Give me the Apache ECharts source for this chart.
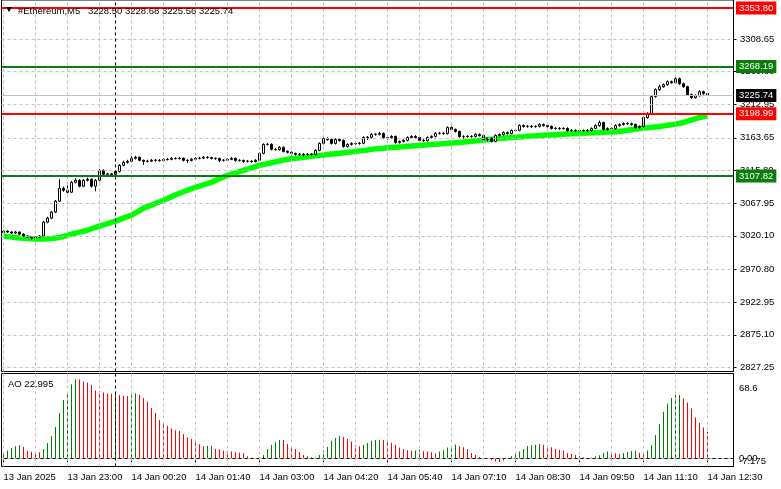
<!DOCTYPE html>
<html><head><meta charset="utf-8">
<script src="https://cdn.jsdelivr.net/npm/echarts@6/dist/echarts.min.js"></script>
<style>html,body{margin:0;padding:0;background:#fff}#c{width:781px;height:489px}</style>
</head><body><div id="c"></div>
<script>
const symbolName = '#Ethereum,M5';
const firstOpen = 3025.0;
const closes = [3027.1,3025.7,3024.2,3025.7,3022.7,3019.8,3018.4,3016.9,3018.4,3019.8,
3040.2,3046.1,3054.8,3070.9,3089.8,3086.9,3084.0,3098.6,3101.5,3092.8,
3101.5,3103.0,3092.8,3101.5,3116.1,3110.3,3110.8,3110.0,3114.6,3123.4,
3127.8,3129.2,3133.6,3135.1,3130.7,3129.2,3129.5,3130.7,3130.9,3130.4,
3132.2,3132.0,3133.6,3133.4,3133.8,3130.7,3130.5,3132.2,3133.6,3133.9,
3135.1,3134.8,3133.6,3133.3,3130.7,3130.9,3132.2,3133.6,3130.7,3130.5,
3129.2,3129.4,3129.0,3130.7,3140.9,3154.0,3154.3,3146.8,3146.6,3149.7,
3143.8,3142.4,3140.9,3139.5,3139.7,3139.3,3139.6,3139.4,3145.3,3155.5,
3162.8,3161.3,3155.5,3161.3,3159.9,3151.1,3154.0,3155.5,3155.3,3155.7,
3164.2,3164.5,3168.6,3168.9,3170.1,3164.2,3164.0,3165.7,3156.9,3158.4,
3159.9,3164.2,3165.7,3164.2,3159.9,3159.6,3164.2,3165.7,3170.1,3170.4,
3169.9,3178.8,3175.9,3173.0,3165.7,3165.5,3165.9,3165.6,3168.6,3167.2,
3161.3,3162.8,3158.4,3167.2,3168.6,3171.5,3170.1,3174.4,3174.7,3181.7,
3180.3,3180.6,3180.0,3180.4,3183.2,3181.7,3180.3,3177.4,3177.6,3177.2,
3177.5,3174.4,3174.6,3174.2,3174.5,3174.3,3174.6,3177.4,3181.7,3186.1,
3175.9,3177.4,3177.1,3181.7,3183.2,3184.7,3184.4,3183.2,3178.8,3180.3,
3193.4,3199.3,3224.1,3234.3,3238.6,3241.6,3245.9,3244.5,3250.3,3243.0,
3238.6,3226.9,3222.6,3225.5,3231.3,3228.5,3225.74];
const highs = [3028.6,3028.3,3026.8,3027.0,3026.5,3023.8,3021.0,3019.6,3019.9,3021.4,
3041.8,3048.0,3056.4,3072.5,3103.0,3092.2,3098.6,3100.3,3104.4,3103.0,
3103.2,3105.5,3104.2,3103.0,3117.8,3117.5,3112.5,3112.2,3116.0,3125.0,
3130.4,3131.5,3136.5,3137.2,3136.3,3131.8,3131.5,3132.6,3132.8,3132.5,
3134.0,3134.1,3135.5,3135.2,3135.6,3135.0,3132.3,3133.9,3135.4,3135.8,
3137.0,3136.8,3136.0,3135.1,3134.8,3132.6,3134.0,3135.5,3135.0,3132.4,
3131.9,3131.2,3131.0,3132.4,3142.6,3155.8,3156.0,3155.5,3148.5,3151.5,
3151.0,3145.3,3143.8,3142.0,3141.5,3141.3,3141.4,3141.2,3147.0,3157.2,
3164.5,3164.6,3163.0,3163.0,3162.8,3161.2,3155.8,3157.2,3157.0,3157.5,
3166.0,3166.3,3170.4,3170.7,3172.5,3171.5,3166.0,3167.5,3167.0,3160.0,
3161.6,3165.8,3167.5,3167.4,3165.6,3161.6,3165.9,3167.4,3171.8,3172.2,
3172.0,3180.6,3180.3,3177.4,3174.5,3167.4,3167.6,3167.5,3170.3,3170.2,
3168.7,3164.5,3164.2,3168.9,3170.3,3173.2,3173.1,3176.1,3176.6,3183.4,
3183.5,3182.5,3182.4,3182.2,3185.0,3184.8,3183.3,3181.8,3179.4,3179.3,
3179.2,3179.0,3176.4,3176.2,3176.3,3176.2,3176.4,3179.0,3183.5,3189.0,
3187.5,3179.1,3179.0,3183.4,3185.0,3186.4,3186.5,3186.0,3184.8,3182.0,
3195.2,3201.2,3226.0,3236.1,3241.4,3243.4,3247.7,3247.6,3254.7,3251.8,
3244.5,3240.0,3228.5,3227.3,3233.5,3232.8,3228.68];
const lows = [3023.8,3024.5,3022.9,3023.0,3021.3,3018.5,3016.8,3014.9,3015.3,3017.0,
3018.6,3038.5,3044.7,3053.5,3069.6,3084.8,3082.4,3082.9,3097.0,3091.2,
3091.5,3099.8,3091.0,3085.4,3100.2,3108.8,3109.0,3108.5,3108.7,3113.2,
3122.0,3126.0,3128.0,3132.0,3129.2,3124.0,3127.5,3128.2,3129.0,3128.8,
3129.0,3130.5,3130.7,3131.8,3131.9,3129.0,3127.0,3129.2,3131.0,3132.2,
3132.5,3133.0,3132.0,3131.5,3128.0,3129.0,3129.5,3131.0,3129.0,3128.8,
3127.0,3127.6,3127.4,3127.5,3129.4,3139.6,3152.5,3145.3,3144.8,3145.2,
3142.2,3140.6,3137.5,3137.8,3137.9,3136.5,3137.8,3137.6,3138.0,3144.0,
3154.0,3159.5,3153.8,3154.0,3158.0,3149.2,3149.6,3152.4,3153.5,3153.6,
3154.3,3160.5,3163.0,3166.9,3167.2,3162.5,3161.0,3162.3,3155.2,3155.3,
3156.8,3158.5,3162.8,3162.6,3158.2,3157.9,3158.2,3162.8,3164.3,3168.4,
3168.2,3168.6,3174.3,3171.4,3164.0,3162.0,3163.8,3163.9,3164.2,3165.5,
3159.8,3158.6,3156.9,3157.0,3165.8,3167.0,3168.4,3168.8,3172.8,3173.4,
3178.7,3178.6,3178.4,3178.5,3179.0,3180.0,3178.6,3175.8,3175.8,3175.4,
3175.6,3172.8,3172.6,3172.5,3172.4,3172.6,3172.5,3173.0,3176.0,3180.0,
3174.4,3174.2,3175.4,3175.6,3180.1,3181.8,3182.8,3181.5,3177.2,3177.0,
3178.8,3191.9,3198.0,3222.6,3232.8,3237.0,3240.1,3243.0,3243.0,3241.4,
3237.0,3225.2,3220.9,3221.0,3224.0,3226.9,3225.56];
const maValues = [3019.8,3019.0,3018.3,3017.6,3016.9,3016.5,3016.1,3015.7,3015.4,3015.4,
3015.4,3015.7,3016.2,3016.9,3017.9,3019.2,3020.9,3022.7,3024.2,3025.6,
3027.1,3028.6,3030.5,3032.4,3034.4,3036.2,3038.0,3039.8,3041.7,3043.8,
3046.0,3048.2,3050.4,3053.8,3057.2,3060.7,3063.0,3065.3,3067.6,3070.0,
3072.3,3074.8,3077.4,3080.0,3082.5,3084.7,3086.9,3089.1,3091.3,3093.1,
3094.9,3096.8,3098.6,3101.2,3103.7,3106.3,3108.8,3110.6,3112.5,3114.3,
3116.1,3118.0,3119.8,3121.6,3123.4,3124.7,3125.9,3127.2,3128.4,3129.7,
3131.0,3132.2,3132.9,3133.6,3134.4,3135.1,3135.8,3136.6,3137.3,3138.0,
3138.6,3139.3,3139.9,3140.5,3141.1,3141.8,3142.4,3143.1,3143.8,3144.6,
3145.3,3146.0,3146.8,3147.5,3148.2,3148.6,3149.1,3149.5,3150.0,3150.4,
3150.8,3151.3,3151.7,3152.2,3152.6,3153.0,3153.5,3153.9,3154.3,3154.8,
3155.2,3155.6,3156.1,3156.5,3156.9,3157.5,3158.1,3158.7,3159.3,3159.9,
3160.4,3161.0,3161.6,3162.2,3162.8,3163.2,3163.7,3164.1,3164.5,3165.0,
3165.4,3165.9,3166.3,3166.7,3167.2,3167.5,3167.8,3168.0,3168.3,3168.6,
3168.9,3169.2,3169.5,3169.8,3170.1,3170.4,3170.7,3171.0,3171.2,3171.5,
3171.8,3172.1,3172.4,3172.7,3173.0,3173.9,3174.8,3175.6,3176.5,3177.4,
3178.0,3178.6,3179.1,3179.7,3180.3,3181.2,3182.1,3182.9,3183.8,3184.7,
3186.4,3188.2,3189.9,3191.7,3193.4,3194.8,3196.3];
const aoValues = [5.0,6.7,9.0,10.4,11.3,9.8,6.4,5.6,5.4,5.3,
8.1,13.3,19.1,27.2,39.4,50.7,57.3,64.5,68.9,68.6,
66.9,66.0,64.0,59.0,58.5,57.3,56.2,56.1,56.7,55.0,
54.4,54.3,55.3,56.7,55.0,52.4,49.2,43.7,39.4,33.3,
30.7,28.4,26.0,24.3,23.7,21.1,18.2,16.8,15.3,12.2,
10.4,10.6,10.9,8.1,7.8,6.6,6.5,5.8,5.2,4.9,
4.3,1.7,0.4,0.2,1.0,2.9,8.1,11.6,14.2,15.9,
15.8,12.4,10.4,8.1,5.5,2.9,1.7,0.9,0.6,2.9,
6.7,9.8,15.3,17.7,19.4,18.5,16.8,14.5,11.6,10.5,
11.6,13.3,15.3,15.9,16.2,16.0,15.3,13.6,11.6,9.3,
8.1,6.9,6.6,6.7,7.5,6.4,5.8,5.2,4.1,5.8,
7.2,9.3,11.0,11.9,10.4,9.6,8.1,4.6,2.9,1.2,
0.3,-0.6,-1.6,-2.9,-3.2,-2.0,-0.6,1.7,4.6,5.8,
8.1,10.7,11.4,11.8,12.4,11.6,10.7,9.6,8.1,7.5,
6.7,4.6,3.8,2.9,1.7,0.9,0.3,0.6,1.7,2.6,
4.6,5.8,4.6,4.3,3.5,4.6,5.5,6.4,6.7,4.9,
4.6,6.7,11.6,20.3,29.8,40.5,47.8,52.4,55.0,55.1,
52.1,48.6,43.4,35.6,30.7,26.9,22.995];
const timeLabels = ['13 Jan 2025','13 Jan 23:00','14 Jan 00:20','14 Jan 01:40','14 Jan 03:00','14 Jan 04:20',
  '14 Jan 05:40','14 Jan 07:10','14 Jan 08:30','14 Jan 09:50','14 Jan 11:10','14 Jan 12:30'];
const priceTicks = [3308.65,3260.80,3212.95,3163.65,3115.80,3067.95,3020.10,2970.80,2922.95,2875.10,2827.25];
const aoMaxLabel = 68.6, aoMinLabel = -7.175;
const levelValues = [3353.80, 3268.19, 3198.99, 3107.82];
const levelColors = ['#ff0000', '#0a7d0a', '#ff0000', '#0a7d0a'];
const daySeparatorIndex = 28; // 14 Jan 00:00

const FONT = '"Liberation Sans", Arial, sans-serif';
const FS = 9.5;
const AO_UP = '#008000', AO_DOWN = '#ff0000';
const nBars = closes.length;
const nCats = 183;
const labelStep = 16, gridStep = 8;
const cats = Array.from({length: nCats}, (_, i) => String(i));
const opens = closes.map((c, i) => i === 0 ? firstOpen : closes[i - 1]);
const candleData = closes.map((c, i) => [opens[i], c, lows[i], highs[i]]);
const lastIdx = nBars - 1;
const lastClose = closes[lastIdx];
const aoColor = (i) => (i > 0 && aoValues[i] < aoValues[i - 1]) ? AO_DOWN : AO_UP;
const vGrid = [];
for (let k = 0; k < nBars; k += gridStep) vGrid.push({xAxis: String(k)});
const dashStyle = {color: '#c0c0c0', type: [3, 3], width: 1};
const axisTxt = {color: '#000', fontSize: FS, fontFamily: FONT};

const chart = echarts.init(document.getElementById('c'), null, {renderer: 'canvas'});
const option = {
  animation: false,
  backgroundColor: '#fff',
  grid: [
    {left: 1.5, top: -1.5, width: 732, height: 373, show: true, borderColor: '#000', borderWidth: 1},
    {left: 1.5, top: 373.5, width: 732, height: 93, show: true, borderColor: '#000', borderWidth: 1}
  ],
  xAxis: [
    {type: 'category', gridIndex: 0, data: cats, boundaryGap: true, show: false},
    {type: 'category', gridIndex: 1, data: cats, boundaryGap: true,
     axisLine: {show: true, lineStyle: {color: '#000'}},
     axisTick: {show: true, alignWithLabel: true, length: 4, lineStyle: {color: '#000'},
       interval: (i) => i % labelStep === 0 && i / labelStep < timeLabels.length},
     axisLabel: Object.assign({show: true, align: 'left', margin: 6,
       interval: (i) => i % labelStep === 0 && i / labelStep < timeLabels.length,
       formatter: (v, i) => timeLabels[i / labelStep] || ''}, axisTxt),
     splitLine: {show: false}}
  ],
  yAxis: [
    {type: 'value', gridIndex: 0, position: 'right', min: 2821.4, max: 3365.6,
     splitLine: {show: false},
     axisLine: {show: true, lineStyle: {color: '#000'}},
     axisTick: {show: true, length: 3, customValues: priceTicks, lineStyle: {color: '#000'}},
     axisLabel: Object.assign({show: true, customValues: priceTicks, formatter: (v) => v.toFixed(2), margin: 6.5}, axisTxt)},
    {type: 'value', gridIndex: 1, position: 'right', min: -7.18, max: 73.83,
     splitLine: {show: false},
     axisLine: {show: true, lineStyle: {color: '#000'}},
     axisTick: {show: false},
     axisLabel: {show: true, customValues: [aoMaxLabel, aoMinLabel], margin: 5.5, hideOverlap: false,
       formatter: (v) => v === aoMaxLabel ? '{t|' + v.toFixed(1) + '}' : '{b|' + v.toFixed(3) + '}',
       rich: {t: Object.assign({padding: [18, 0, 0, 0]}, axisTxt),
              b: Object.assign({padding: [0, 0, 10, 0]}, axisTxt)}}}
  ],
  graphic: [
    {type: 'polygon', shape: {points: [[6, 7], [12, 7], [9, 12]]}, style: {fill: '#000'}, z: 100},
    {type: 'text', x: 18, y: 11, z: 100, style: {text: symbolName, fill: '#000', fontSize: FS, fontFamily: FONT, verticalAlign: 'middle'}},
    {type: 'text', x: 88, y: 11, z: 100, style: {text: [opens[lastIdx], highs[lastIdx], lows[lastIdx], lastClose].map(v => v.toFixed(2)).join(' '),
      fill: '#000', fontSize: FS, fontFamily: FONT, verticalAlign: 'middle'}},
    {type: 'text', x: 8, y: 384, z: 100, style: {text: 'AO ' + aoValues[lastIdx].toFixed(3), fill: '#000', fontSize: FS, fontFamily: FONT, verticalAlign: 'middle'}}
  ],
  series: [
    {type: 'line', xAxisIndex: 0, yAxisIndex: 0, data: [], z: 1, silent: true,
     markLine: {silent: true, symbol: 'none', animation: false, label: {show: false},
       lineStyle: dashStyle,
       data: priceTicks.map(v => ({yAxis: v})).concat(vGrid)}},
    {type: 'line', xAxisIndex: 0, yAxisIndex: 0, data: [], z: 1, silent: true,
     markLine: {silent: true, symbol: 'none', animation: false, label: {show: false},
       lineStyle: {color: '#000', type: [3, 3], width: 1},
       data: [{xAxis: String(daySeparatorIndex)}]}},
    {name: 'MA', type: 'line', xAxisIndex: 0, yAxisIndex: 0, data: maValues, z: 2,
     symbol: 'none', lineStyle: {color: '#00ff00', width: 5.5}, silent: true},
    {name: 'Price', type: 'candlestick', xAxisIndex: 0, yAxisIndex: 0, data: candleData, z: 3,
     barWidth: 3,
     itemStyle: {color: '#ffffff', color0: '#000000', borderColor: '#000000', borderColor0: '#000000',
       borderColorDoji: '#000000', borderWidth: 1}},
    {type: 'line', xAxisIndex: 0, yAxisIndex: 0, data: [], z: 4, silent: true,
     markLine: {silent: true, symbol: 'none', animation: false,
       data: levelValues.map((v, i) => ({yAxis: v,
         lineStyle: {color: levelColors[i], width: 2, type: 'solid'},
         label: {show: true, position: 'end', distance: 2.5, formatter: v.toFixed(2), color: '#fff',
           backgroundColor: levelColors[i], padding: [2, 3, 1, 3], fontSize: FS, fontFamily: FONT}}))
         .concat([{yAxis: lastClose, lineStyle: {color: '#c0c0c0', width: 1, type: 'solid'},
           label: {show: true, position: 'end', distance: 2.5, formatter: lastClose.toFixed(2), color: '#fff',
             backgroundColor: '#000', padding: [2, 3, 1, 3], fontSize: FS, fontFamily: FONT}}])}},
    {type: 'line', xAxisIndex: 1, yAxisIndex: 1, data: [], z: 1, silent: true,
     markLine: {silent: true, symbol: 'none', animation: false,
       lineStyle: dashStyle,
       data: vGrid.map(d => Object.assign({label: {show: false}}, d)).concat([{yAxis: 0,
         label: {show: true, position: 'end', distance: 5.5, formatter: '0.00', color: '#000', fontSize: FS, fontFamily: FONT}}])}},
    {type: 'line', xAxisIndex: 1, yAxisIndex: 1, data: [], z: 2, silent: true,
     markLine: {silent: true, symbol: 'none', animation: false, label: {show: false},
       lineStyle: {color: '#000', type: [3, 3], width: 1},
       data: [{xAxis: String(daySeparatorIndex)}]}},
    {name: 'AO', type: 'bar', xAxisIndex: 1, yAxisIndex: 1, data: aoValues, barWidth: 1, z: 3,
     itemStyle: {color: (p) => aoColor(p.dataIndex), opacity: 1}}
  ]
};
chart.setOption(option);
</script>
</body></html>
